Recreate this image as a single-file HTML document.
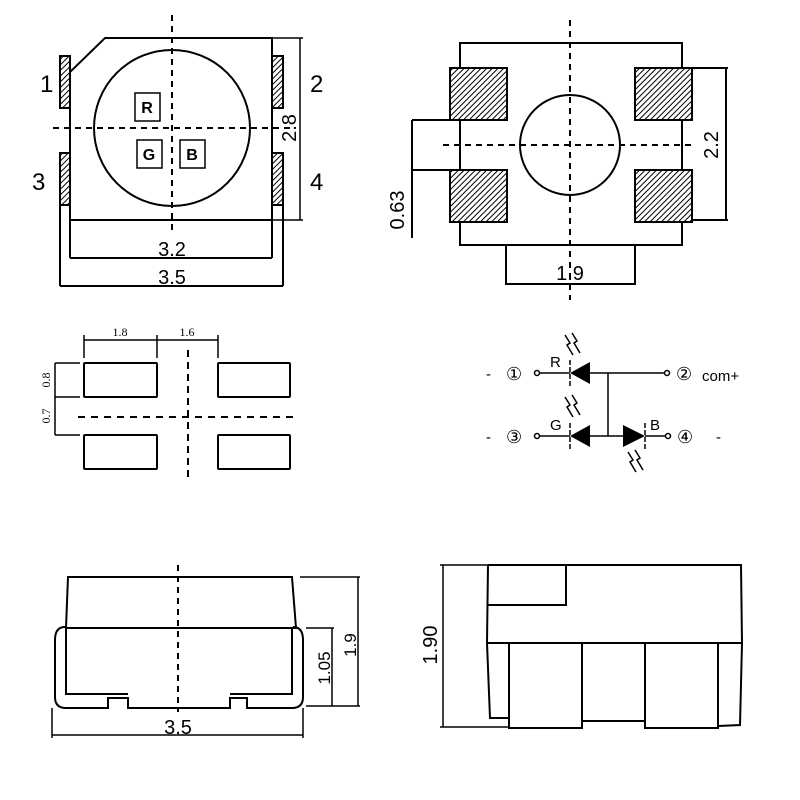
<!DOCTYPE html>
<html><head><style>html,body{margin:0;padding:0;background:#fff}svg{display:block}</style></head>
<body>
<svg width="800" height="800" viewBox="0 0 800 800" xmlns="http://www.w3.org/2000/svg" font-family="Liberation Sans, sans-serif">
<defs>
<pattern id="h" patternUnits="userSpaceOnUse" width="4" height="4" patternTransform="rotate(45)">
<rect width="4" height="4" fill="#fff"/><line x1="0" y1="0" x2="0" y2="4" stroke="#000" stroke-width="2"/>
</pattern>
</defs>
<g fill="none" stroke="#000" stroke-width="2">
<!-- top-left -->
<path d="M105,38 L272,38 L272,220 L70,220 L70,72 Z"/>
<circle cx="172" cy="128" r="78"/>
<rect x="60" y="56" width="10" height="52" fill="url(#h)"/>
<rect x="60" y="153" width="10" height="52" fill="url(#h)"/>
<rect x="272" y="56" width="11" height="52" fill="url(#h)"/>
<rect x="272" y="153" width="11" height="52" fill="url(#h)"/>
<line x1="172" y1="15" x2="172" y2="235" stroke-dasharray="6,5"/>
<line x1="53" y1="128" x2="295" y2="128" stroke-dasharray="6,5"/>
<rect x="135" y="93" width="25" height="28" stroke-width="1.5"/>
<rect x="137" y="140" width="25" height="28" stroke-width="1.5"/>
<rect x="180" y="140" width="25" height="28" stroke-width="1.5"/>
<line x1="272" y1="38" x2="303" y2="38" stroke-width="1.5"/>
<line x1="272" y1="220" x2="303" y2="220" stroke-width="1.5"/>
<line x1="300" y1="38" x2="300" y2="220" stroke-width="1.5"/>
<line x1="70" y1="220" x2="70" y2="258"/>
<line x1="272" y1="220" x2="272" y2="258"/>
<line x1="70" y1="258" x2="272" y2="258"/>
<line x1="60" y1="205" x2="60" y2="286"/>
<line x1="283" y1="205" x2="283" y2="286"/>
<line x1="60" y1="286" x2="283" y2="286"/>
<!-- top-right -->
<rect x="460" y="43" width="222" height="202"/>
<rect x="450" y="68" width="57" height="52" fill="url(#h)"/>
<rect x="450" y="170" width="57" height="52" fill="url(#h)"/>
<rect x="635" y="68" width="57" height="52" fill="url(#h)"/>
<rect x="635" y="170" width="57" height="52" fill="url(#h)"/>
<circle cx="570" cy="145" r="50"/>
<line x1="570" y1="20" x2="570" y2="300" stroke-dasharray="6,5"/>
<line x1="443" y1="145" x2="695" y2="145" stroke-dasharray="6,5"/>
<line x1="412" y1="120" x2="450" y2="120"/>
<line x1="412" y1="170" x2="450" y2="170"/>
<line x1="412" y1="120" x2="412" y2="238"/>
<line x1="692" y1="68" x2="728" y2="68"/>
<line x1="692" y1="220" x2="728" y2="220"/>
<line x1="726" y1="68" x2="726" y2="220"/>
<line x1="506" y1="245" x2="506" y2="285"/>
<line x1="635" y1="245" x2="635" y2="285"/>
<line x1="506" y1="284" x2="635" y2="284"/>
<!-- middle-left -->
<rect x="84" y="363" width="73" height="34" rx="1"/>
<rect x="84" y="435" width="73" height="34" rx="1"/>
<rect x="218" y="363" width="72" height="34" rx="1"/>
<rect x="218" y="435" width="72" height="34" rx="1"/>
<line x1="188" y1="350" x2="188" y2="478" stroke-dasharray="7,5"/>
<line x1="78" y1="417" x2="295" y2="417" stroke-dasharray="7,6"/>
<line x1="84" y1="340" x2="218" y2="340" stroke-width="1.5"/>
<line x1="84" y1="335" x2="84" y2="358" stroke-width="1.5"/>
<line x1="157" y1="335" x2="157" y2="358" stroke-width="1.5"/>
<line x1="218" y1="335" x2="218" y2="358" stroke-width="1.5"/>
<line x1="55" y1="363" x2="55" y2="435" stroke-width="1.5"/>
<line x1="55" y1="363" x2="80" y2="363" stroke-width="1.5"/>
<line x1="55" y1="397" x2="80" y2="397" stroke-width="1.5"/>
<line x1="55" y1="435" x2="80" y2="435" stroke-width="1.5"/>
<!-- circuit -->
<g stroke-width="1.5">
<line x1="540" y1="373" x2="570" y2="373"/>
<line x1="590" y1="373" x2="664" y2="373"/>
<line x1="540" y1="436" x2="570" y2="436"/>
<line x1="590" y1="436" x2="623" y2="436"/>
<line x1="645" y1="436" x2="665" y2="436"/>
<line x1="608" y1="373" x2="608" y2="436"/>
<circle cx="537" cy="373" r="2.5"/><circle cx="667" cy="373" r="2.5"/>
<circle cx="537" cy="436" r="2.5"/><circle cx="668" cy="436" r="2.5"/>
<line x1="570" y1="360" x2="570" y2="386" stroke-dasharray="5,2"/>
<line x1="570" y1="423" x2="570" y2="449" stroke-dasharray="5,2"/>
<line x1="645" y1="423" x2="645" y2="449" stroke-dasharray="5,2"/>
<path d="M565,335 l5,8 l-3,2 l6,10 M572,333 l5,8 l-3,2 l6,10"/>
<path d="M565,397 l5,8 l-3,2 l6,10 M572,395 l5,8 l-3,2 l6,10"/>
<path d="M628,452 l5,8 l-3,2 l6,10 M635,450 l5,8 l-3,2 l6,10"/>
</g>
<!-- bottom-left -->
<path d="M68,577 L292,577 L296,628 L66,628 Z"/>
<path d="M65,627 Q55,627 55,640 L55,697 Q55,708 66,708 L108,708 L108,698 L128,698 L128,708 L230,708 L230,698 L247,698 L247,708 L292,708 Q303,708 303,697 L303,640 Q303,627 293,627"/>
<path d="M66,628 L66,694 L128,694 M292,628 L292,694 L230,694"/>
<line x1="178" y1="565" x2="178" y2="712" stroke-dasharray="6,5"/>
<line x1="300" y1="577" x2="360" y2="577" stroke-width="1.5"/>
<line x1="358" y1="577" x2="358" y2="706" stroke-width="1.5"/>
<line x1="306" y1="628" x2="334" y2="628" stroke-width="1.5"/>
<line x1="332" y1="628" x2="332" y2="706" stroke-width="1.5"/>
<line x1="306" y1="706" x2="360" y2="706" stroke-width="1.5"/>
<line x1="52" y1="708" x2="52" y2="738" stroke-width="1.5"/>
<line x1="303" y1="708" x2="303" y2="738" stroke-width="1.5"/>
<line x1="52" y1="735" x2="303" y2="735" stroke-width="1.5"/>
<!-- bottom-right -->
<path d="M488,565 L741,565 L742,643 L740,725 L718,726 M488,565 L487,643 L490,718 L509,718"/>
<path d="M488,605 L566,605 L566,565"/>
<line x1="487" y1="643" x2="742" y2="643"/>
<rect x="509" y="643" width="73" height="85"/>
<rect x="645" y="643" width="73" height="85"/>
<line x1="582" y1="721" x2="645" y2="721"/>
<line x1="440" y1="565" x2="488" y2="565" stroke-width="1.5"/>
<line x1="440" y1="727" x2="509" y2="727" stroke-width="1.5"/>
<line x1="443" y1="565" x2="443" y2="727" stroke-width="1.5"/>
</g>
<g fill="#000" font-size="24">
<text x="40" y="92">1</text><text x="310" y="92">2</text>
<text x="32" y="190">3</text><text x="310" y="190">4</text>
<text x="172" y="256" text-anchor="middle" font-size="20">3.2</text>
<text x="172" y="284" text-anchor="middle" font-size="20">3.5</text>
<text x="570" y="280" text-anchor="middle" font-size="20">1.9</text>
<text x="178" y="734" text-anchor="middle" font-size="20">3.5</text>
</g>
<g fill="#000" font-size="16" font-weight="bold">
<text x="147" y="113" text-anchor="middle">R</text>
<text x="149" y="160" text-anchor="middle">G</text>
<text x="192" y="160" text-anchor="middle">B</text>
</g>
<g fill="#000" font-size="20">
<text transform="translate(296,128) rotate(-90)" text-anchor="middle">2.8</text>
<text transform="translate(404,210) rotate(-90)" text-anchor="middle">0.63</text>
<text transform="translate(718,145) rotate(-90)" text-anchor="middle">2.2</text>
<text transform="translate(356,645) rotate(-90)" text-anchor="middle" font-size="17">1.9</text>
<text transform="translate(330,668) rotate(-90)" text-anchor="middle" font-size="17">1.05</text>
<text transform="translate(437,645) rotate(-90)" text-anchor="middle">1.90</text>
</g>
<g fill="#000" font-family="Liberation Serif, serif" font-size="12">
<text x="120" y="336" text-anchor="middle">1.8</text>
<text x="187" y="336" text-anchor="middle">1.6</text>
<text transform="translate(50,380) rotate(-90)" text-anchor="middle">0.8</text>
<text transform="translate(50,416) rotate(-90)" text-anchor="middle">0.7</text>
</g>
<g fill="#000">
<path d="M570,373 L590,362 L590,384 Z"/>
<path d="M570,436 L590,425 L590,447 Z"/>
<path d="M645,436 L623,425 L623,447 Z"/>
</g>
<g fill="#000" font-size="15">
<text x="486" y="379">-</text><text x="506" y="380" font-size="18">①</text>
<text x="486" y="442">-</text><text x="506" y="443" font-size="18">③</text>
<text x="676" y="380" font-size="18">②</text><text x="702" y="381">com+</text>
<text x="677" y="443" font-size="18">④</text><text x="716" y="442">-</text>
<text x="550" y="367">R</text><text x="550" y="430">G</text><text x="650" y="430">B</text>
</g>
</svg>
</body></html>
